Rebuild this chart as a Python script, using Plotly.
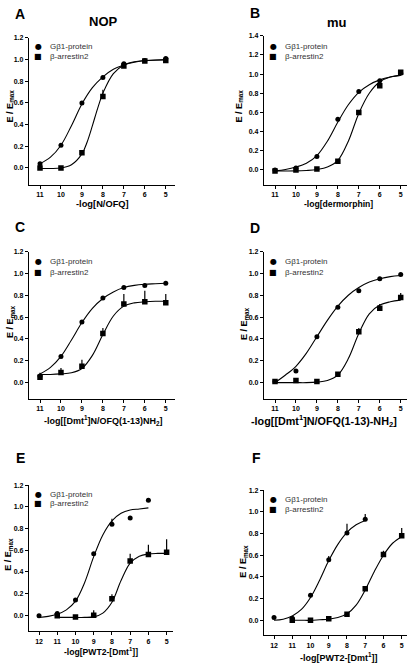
import plotly.graph_objects as go

W, H = 414, 664
FONT = "Liberation Sans, Arial, sans-serif"

# ---------------- data ----------------
# x values are -log[agonist] (M)
xA = [11, 10, 9, 8, 7, 6, 5]
A_g = [0.04, 0.21, 0.60, 0.835, 0.96, 0.99, 1.01]
A_a = [0.0, 0.0, 0.14, 0.66, 0.94, 0.985, 0.99]
A_a_err = [0, 0, 0, 0.06, 0.02, 0, 0.02]
A_cx_g = [11, 10.5, 10, 9.5, 9, 8.5, 8, 7.5, 7, 6.5, 6, 5.5, 5]
A_cy_g = [0.04, 0.10, 0.21, 0.39, 0.59, 0.74, 0.84, 0.91, 0.95, 0.975, 0.99, 0.995, 1.0]
A_cx_a = [11, 10.5, 10, 9.5, 9, 8.75, 8.5, 8.25, 8, 7.5, 7, 6.5, 6, 5]
A_cy_a = [-0.005, -0.005, 0.0, 0.03, 0.13, 0.24, 0.39, 0.55, 0.69, 0.87, 0.95, 0.98, 0.99, 0.995]

xB = [11, 10, 9, 8, 7, 6, 5]
B_g = [0.0, 0.02, 0.14, 0.53, 0.82, 0.93, 1.01]
B_a = [-0.01, 0.0, 0.01, 0.09, 0.60, 0.88, 1.02]
B_a_err = [0, 0, 0, 0, 0.02, 0, 0.01]
B_cx_g = [11, 10.5, 10, 9.5, 9, 8.5, 8, 7.5, 7, 6.5, 6, 5.5, 5]
B_cy_g = [-0.01, 0.005, 0.03, 0.07, 0.15, 0.30, 0.50, 0.68, 0.81, 0.89, 0.94, 0.97, 0.985]
B_cx_a = [11, 10, 9.5, 9, 8.5, 8, 7.5, 7, 6.5, 6, 5.5, 5]
B_cy_a = [-0.01, -0.01, -0.005, 0.005, 0.03, 0.10, 0.30, 0.59, 0.80, 0.92, 0.97, 0.99]

xC = [11, 10, 9, 8, 7, 6, 5]
C_g = [0.06, 0.24, 0.556, 0.775, 0.87, 0.89, 0.91]
C_a = [0.05, 0.094, 0.15, 0.45, 0.72, 0.74, 0.73]
C_a_err = [0.04, 0.04, 0.06, 0.05, 0.09, 0.10, 0.08]
C_cx_g = [11, 10.5, 10, 9.5, 9, 8.5, 8, 7.5, 7, 6.5, 6, 5.5, 5]
C_cy_g = [0.08, 0.14, 0.24, 0.39, 0.55, 0.68, 0.77, 0.83, 0.87, 0.89, 0.90, 0.905, 0.91]
C_cx_a = [11, 10.5, 10, 9.5, 9, 8.5, 8, 7.5, 7, 6.5, 6, 5.5, 5]
C_cy_a = [0.075, 0.075, 0.08, 0.09, 0.13, 0.25, 0.44, 0.61, 0.70, 0.73, 0.74, 0.745, 0.745]

xD = [11, 10, 9, 8, 7, 6, 5]
D_g = [0.01, 0.106, 0.42, 0.69, 0.84, 0.95, 0.99]
D_a = [0.01, 0.02, 0.01, 0.076, 0.465, 0.68, 0.78]
D_a_err = [0, 0, 0, 0, 0.035, 0.04, 0.04]
D_cx_g = [11, 10.5, 10, 9.5, 9, 8.5, 8, 7.5, 7, 6.5, 6, 5.5, 5]
D_cy_g = [0.0, 0.07, 0.15, 0.27, 0.42, 0.57, 0.70, 0.80, 0.87, 0.92, 0.95, 0.97, 0.98]
D_cx_a = [11, 10, 9.5, 9, 8.5, 8, 7.5, 7, 6.5, 6, 5.5, 5]
D_cy_a = [0.0, 0.0, 0.0, 0.005, 0.02, 0.07, 0.22, 0.45, 0.63, 0.71, 0.74, 0.755]

xE_g = [12, 11, 10, 9, 8, 7, 6]
E_g = [-0.005, 0.015, 0.14, 0.566, 0.84, 0.897, 1.06]
E_g_err = [0, 0, 0, 0, 0.05, 0, 0]
xE_a = [11, 10, 9, 8, 7, 6, 5]
E_a = [-0.005, -0.015, 0.0, 0.153, 0.50, 0.56, 0.58]
E_a_err = [0, 0, 0.045, 0.04, 0.066, 0.09, 0.12]
E_cx_g = [12, 11.5, 11, 10.5, 10, 9.5, 9, 8.5, 8, 7.5, 7, 6.5, 6]
E_cy_g = [-0.02, -0.01, 0.01, 0.05, 0.13, 0.30, 0.54, 0.74, 0.87, 0.94, 0.97, 0.98, 0.99]
E_cx_a = [11, 10.5, 10, 9.5, 9, 8.5, 8, 7.5, 7, 6.5, 6, 5.5, 5]
E_cy_a = [-0.02, -0.02, -0.02, -0.02, -0.015, 0.02, 0.12, 0.32, 0.48, 0.545, 0.565, 0.57, 0.57]

xF_g = [12, 11, 10, 9, 8, 7]
F_g = [0.025, 0.02, 0.23, 0.557, 0.805, 0.93]
F_g_err = [0, 0, 0, 0.035, 0.085, 0.05]
xF_a = [11, 10, 9, 8, 7, 6, 5]
F_a = [0.0, 0.0, 0.015, 0.055, 0.29, 0.606, 0.78]
F_a_err = [0, 0, 0, 0, 0, 0.035, 0.07]
F_cx_g = [12, 11.5, 11, 10.5, 10, 9.5, 9, 8.5, 8, 7.5, 7]
F_cy_g = [0.0, 0.01, 0.04, 0.10, 0.21, 0.37, 0.55, 0.70, 0.81, 0.88, 0.92]
F_cx_a = [11, 10.5, 10, 9.5, 9, 8.5, 8, 7.5, 7, 6.5, 6, 5.5, 5]
F_cy_a = [0.0, 0.0, 0.0, 0.005, 0.01, 0.025, 0.06, 0.14, 0.28, 0.45, 0.60, 0.71, 0.77]

ticks_11_5 = [11, 10, 9, 8, 7, 6, 5]
ticks_12_5 = [12, 11, 10, 9, 8, 7, 6, 5]

legend_labels = ["G\u03b21-protein", "\u03b2-arrestin2"]

# ---------------- layout helpers ----------------
def px_x(p):
    return p / W

def px_y(p):
    return 1 - p / H

panels = [
    dict(name="A", x0=29, x1=175, top=34, bot=182, xr=[11.525, 4.56], yr=[-0.156, 1.2], ymax=1.2, xt=ticks_11_5,
         gx=xA, gy=A_g, ge=None, ax_=xA, ay=A_a, ae=A_a_err, cgx=A_cx_g, cgy=A_cy_g, cax=A_cx_a, cay=A_cy_a,
         xtitle="-log[N/OFQ]", xt_x=102, xt_y=201, xt_s=9.3, yt_x=10, yt_y=103, lab=(20, 10), leg=(38, 43, 53)),
    dict(name="B", x0=264, x1=407, top=32, bot=182, xr=[11.525, 4.70], yr=[-0.156, 1.4], ymax=1.4, xt=ticks_11_5,
         gx=xB, gy=B_g, ge=None, ax_=xB, ay=B_a, ae=B_a_err, cgx=B_cx_g, cgy=B_cy_g, cax=B_cx_a, cay=B_cy_a,
         xtitle="-log[dermorphin]", xt_x=338, xt_y=201, xt_s=8.6, yt_x=239, yt_y=103, lab=(255, 9), leg=(273, 43, 53)),
    dict(name="C", x0=29, x1=175, top=249, bot=397, xr=[11.525, 4.56], yr=[-0.146, 1.2], ymax=1.2, xt=ticks_11_5,
         gx=xC, gy=C_g, ge=None, ax_=xC, ay=C_a, ae=C_a_err, cgx=C_cx_g, cgy=C_cy_g, cax=C_cx_a, cay=C_cy_a,
         xtitle="-log[[Dmt<sup>1</sup>]N/OFQ(1-13)NH<sub>2</sub>]", xt_x=103, xt_y=419, xt_s=9, yt_x=10, yt_y=320,
         lab=(20, 224), leg=(38, 259, 270)),
    dict(name="D", x0=264, x1=407, top=249, bot=397, xr=[11.525, 4.70], yr=[-0.146, 1.2], ymax=1.2, xt=ticks_11_5,
         gx=xD, gy=D_g, ge=None, ax_=xD, ay=D_a, ae=D_a_err, cgx=D_cx_g, cgy=D_cy_g, cax=D_cx_a, cay=D_cy_a,
         xtitle="-log[[Dmt<sup>1</sup>]N/OFQ(1-13)-NH<sub>2</sub>]", xt_x=324, xt_y=420, xt_s=10.8, yt_x=244, yt_y=321,
         lab=(255, 225), leg=(273, 259, 270)),
    dict(name="E", x0=29, x1=173, top=484, bot=631, xr=[12.55, 4.65], yr=[-0.147, 1.2], ymax=1.2, xt=ticks_12_5,
         gx=xE_g, gy=E_g, ge=E_g_err, ax_=xE_a, ay=E_a, ae=E_a_err, cgx=E_cx_g, cgy=E_cy_g, cax=E_cx_a, cay=E_cy_a,
         xtitle="-log[PWT2-[Dmt<sup>1</sup>]]", xt_x=101, xt_y=651, xt_s=8.6, yt_x=9, yt_y=554, lab=(20, 457),
         leg=(38, 493, 503)),
    dict(name="F", x0=264, x1=407, top=489, bot=635, xr=[12.55, 4.71], yr=[-0.137, 1.2], ymax=1.2, xt=ticks_12_5,
         gx=xF_g, gy=F_g, ge=F_g_err, ax_=xF_a, ay=F_a, ae=F_a_err, cgx=F_cx_g, cgy=F_cy_g, cax=F_cx_a, cay=F_cy_a,
         xtitle="-log[PWT2-[Dmt<sup>1</sup>]]", xt_x=339, xt_y=657, xt_s=9, yt_x=244, yt_y=560, lab=(256, 457),
         leg=(273, 498, 509)),
]

fig = go.Figure()
annotations = []
axis_common = dict(showline=True, linecolor="black", linewidth=1.3, ticks="outside", ticklen=3,
                   tickwidth=1.3, tickcolor="black", showgrid=False, zeroline=False,
                   tickfont=dict(family=FONT, size=7, color="black", weight="bold"))

for i, p in enumerate(panels):
    n = "" if i == 0 else str(i + 1)
    xa, ya = "x" + n, "y" + n
    # curves
    fig.add_trace(go.Scatter(x=p["cgx"], y=p["cgy"], mode="lines", line=dict(color="black", width=1.1, shape="spline"),
                             xaxis=xa, yaxis=ya, showlegend=False, hoverinfo="skip"))
    fig.add_trace(go.Scatter(x=p["cax"], y=p["cay"], mode="lines", line=dict(color="black", width=1.1, shape="spline"),
                             xaxis=xa, yaxis=ya, showlegend=False, hoverinfo="skip"))
    # points
    ge = p["ge"]
    fig.add_trace(go.Scatter(x=p["gx"], y=p["gy"], mode="markers", name=legend_labels[0],
                             marker=dict(symbol="circle", size=5, color="black"),
                             error_y=(dict(type="data", symmetric=False, array=ge, arrayminus=[0] * len(ge),
                                           color="black", thickness=1.2, width=0) if ge else None),
                             xaxis=xa, yaxis=ya, showlegend=False))
    ae = p["ae"]
    fig.add_trace(go.Scatter(x=p["ax_"], y=p["ay"], mode="markers", name=legend_labels[1],
                             marker=dict(symbol="square", size=5.5, color="black"),
                             error_y=dict(type="data", symmetric=False, array=ae, arrayminus=[0] * len(ae),
                                          color="black", thickness=1.2, width=0),
                             xaxis=xa, yaxis=ya, showlegend=False))
    ytv = [round(0.2 * k, 1) for k in range(int(round(p["ymax"] / 0.2)) + 1)]
    fig.update_layout(**{
        "xaxis" + n: dict(axis_common, domain=[px_x(p["x0"]), px_x(p["x1"])], range=p["xr"], anchor=ya,
                          tickmode="array", tickvals=p["xt"], ticktext=[str(t) for t in p["xt"]]),
        "yaxis" + n: dict(axis_common, domain=[px_y(p["bot"]), px_y(p["top"])], range=p["yr"], anchor=xa,
                          tickmode="array", tickvals=ytv, ticktext=["%.1f" % v for v in ytv]),
    })
    # axis titles
    annotations.append(dict(text=p["xtitle"], x=px_x(p["xt_x"]), y=px_y(p["xt_y"]),
                            xref="paper", yref="paper", showarrow=False, xanchor="center", yanchor="middle",
                            font=dict(family=FONT, size=p["xt_s"], color="black", weight="bold")))
    annotations.append(dict(text="E / E<sub>max</sub>", x=px_x(p["yt_x"]), y=px_y(p["yt_y"]), textangle=-90,
                            xref="paper", yref="paper", showarrow=False, xanchor="center", yanchor="middle",
                            font=dict(family=FONT, size=9, color="black", weight="bold")))
    # panel letter
    annotations.append(dict(text=p["name"], x=px_x(p["lab"][0]), y=px_y(p["lab"][1]), xref="paper", yref="paper",
                            showarrow=False, xanchor="center", yanchor="middle",
                            font=dict(family=FONT, size=14, color="black", weight="bold")))
    # legend (symbol + text)
    lx, ly1, ly2 = p["leg"]
    for sym, lab_, ly in (("\u25cf", legend_labels[0], ly1), ("\u25a0", legend_labels[1], ly2)):
        annotations.append(dict(text=sym, x=px_x(lx), y=px_y(ly), xref="paper", yref="paper", showarrow=False,
                                xanchor="center", yanchor="middle",
                                font=dict(family="DejaVu Sans", size=8, color="black")))
        annotations.append(dict(text=lab_, x=px_x(lx + 10), y=px_y(ly), xref="paper", yref="paper", showarrow=False,
                                xanchor="left", yanchor="middle",
                                font=dict(family=FONT, size=8, color="#333333")))

# column titles
annotations.append(dict(text="NOP", x=px_x(103), y=px_y(18), xref="paper", yref="paper", showarrow=False,
                        xanchor="center", yanchor="middle", font=dict(family=FONT, size=13, color="black", weight="bold")))
annotations.append(dict(text="mu", x=px_x(337), y=px_y(19), xref="paper", yref="paper", showarrow=False,
                        xanchor="center", yanchor="middle", font=dict(family=FONT, size=13, color="black", weight="bold")))

fig.update_layout(width=W, height=H, margin=dict(l=0, r=0, t=0, b=0), paper_bgcolor="white",
                  plot_bgcolor="white", showlegend=False, annotations=annotations)

fig.write_html("out.html", config={"displayModeBar": False},
               post_script="document.body.style.margin='0';document.body.style.overflow='hidden';")
